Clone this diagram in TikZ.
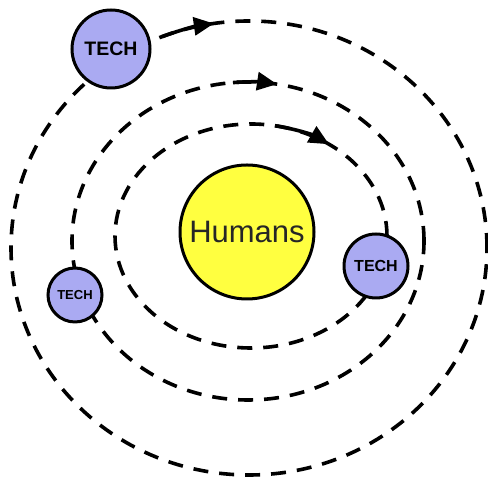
\documentclass[tikz,border=0pt]{standalone}
\usepackage{fontspec}
\setmainfont{Liberation Sans}
\usepackage{xcolor}
\usetikzlibrary{arrows.meta}
\definecolor{techblue}{RGB}{170,170,242}
\definecolor{humanyellow}{RGB}{255,255,64}

\begin{document}
\begin{tikzpicture}[x=1pt,y=1pt,>={Triangle[length=20pt,width=18pt]},
    orbit/.style={line width=3.6pt,dash pattern=on 15pt off 11pt},
    motion/.style={->,line width=3.6pt},
    tech/.style={circle,draw,line width=3pt,fill=techblue,inner sep=0pt}]
    \useasboundingbox (0,0) rectangle (488,478);
    % orbits
    \draw[orbit] (249,230) ellipse [x radius=238,y radius=227];
    \draw[orbit] (248,237) ellipse [x radius=176,y radius=159];
    \draw[orbit] (251,242) ellipse [x radius=136,y radius=112];
    % direction of motion
    \draw[motion,shift={(249,230)}] (111.4:238 and 227) arc [start angle=111.4,end angle=98.5,x radius=238,y radius=227];
    \draw[motion,shift={(248,237)}] (94.9:176 and 159) arc [start angle=94.9,end angle=80.5,x radius=176,y radius=159];
    \draw[motion,shift={(251,242)}] (79.9:136 and 112) arc [start angle=79.9,end angle=55,x radius=136,y radius=112];
    % bodies
    \node[circle,draw,line width=3pt,fill=humanyellow,inner sep=0pt,minimum size=134pt,text=black!85,font=\fontsize{31}{31}\selectfont] (H) at (247,246) {Humans};
    \node[tech,minimum size=78pt,font=\bfseries\fontsize{19.5}{20}\selectfont] (T1) at (111,429) {TECH};
    \node[tech,minimum size=64pt,font=\bfseries\fontsize{16}{16}\selectfont] (T2) at (376,212) {TECH};
    \node[tech,minimum size=54pt,font=\bfseries\fontsize{13}{13}\selectfont] (T3) at (75,183) {TECH};
\end{tikzpicture}
\end{document}
